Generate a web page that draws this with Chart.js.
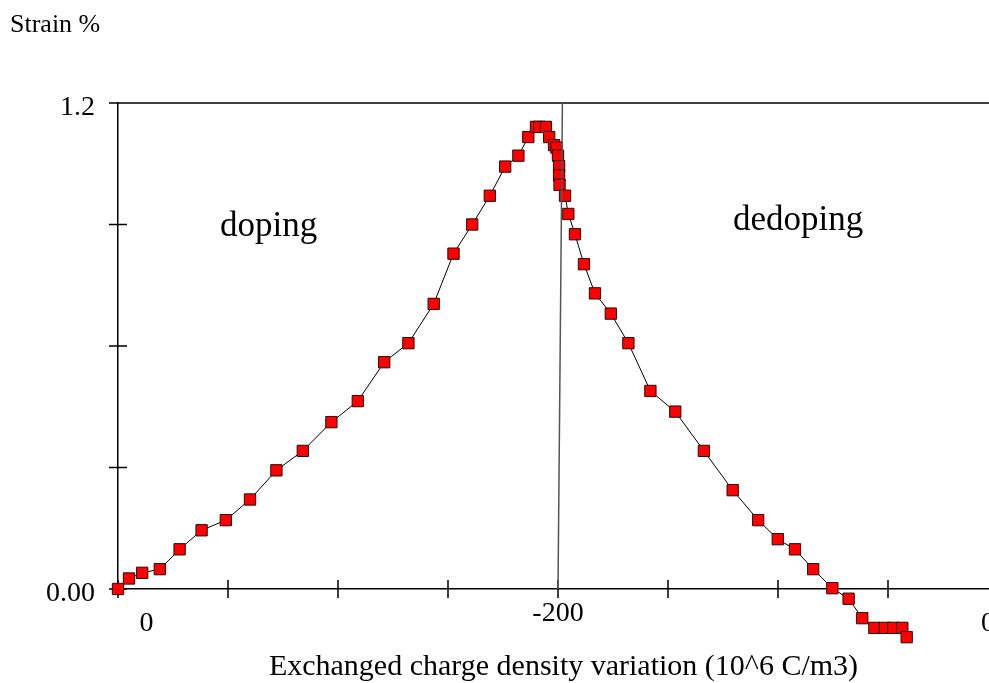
<!DOCTYPE html>
<html>
<head>
<meta charset="utf-8">
<script src="https://cdn.jsdelivr.net/npm/chart.js@4.4.1/dist/chart.umd.min.js"></script>
<style>
  html, body { margin: 0; padding: 0; background: #fff; overflow: hidden; }
  #wrap { width: 989px; height: 683px; overflow: hidden; }
</style>
</head>
<body>
<div id="wrap"><canvas id="strainChart" width="1030" height="683"></canvas></div>
<script>
// doping: charge goes from 0 down to -200
const dopingCharge = [0, -5, -11, -19, -28, -38, -49, -60, -72, -84, -97, -109, -121, -132, -143.5,
  -152.5, -161, -169, -176, -182, -186.5, -190, -191.5, -194.5, -196, -198.2, -199.3, -200];
const dopingStrain = [0, 0.026, 0.04, 0.049, 0.098, 0.145, 0.17, 0.221, 0.293, 0.341, 0.412, 0.464, 0.56, 0.607, 0.704,
  0.828, 0.9, 0.971, 1.043, 1.07, 1.116, 1.141, 1.141, 1.141, 1.116, 1.096, 1.09, 1.07];

// dedoping: charge goes back from -200 towards 0
const dedopingCharge = [-199.5, -199.5, -199.3, -196.8, -195.3, -192.3, -188.2, -183.2, -176, -168, -158, -146.7,
  -133.7, -120.6, -109, -100.1, -92.3, -84, -75.3, -67.9, -61.7, -56.2, -51.4, -47.6, -43.5, -41.5];
const dedopingStrain = [1.044, 1.021, 0.998, 0.971, 0.926, 0.876, 0.802, 0.73, 0.68, 0.607, 0.489, 0.438,
  0.341, 0.244, 0.17, 0.123, 0.098, 0.049, 0.002, -0.024, -0.072, -0.096, -0.096, -0.096, -0.096, -0.119];

// thin reference line at the turning point
const refLineCharge = [-202, -200];
const refLineStrain = [1.2, 0];

const yTickValues = [0, 0.3, 0.6, 0.9, 1.2];
const yTickText = ['0.00', '', '', '', '1.2'];
const xTickStep = 50;
const xTickText = ['0', '-200', '0'];
const xTickPath = [13, 200, 395.5];

// the x axis runs along the cycle: doping then dedoping
const dopingPath = q => -q;
const dedopingPath = q => 400 + q;

const cycle = dopingCharge.map((q, i) => ({ x: dopingPath(q), y: dopingStrain[i] }))
  .concat(dedopingCharge.map((q, i) => ({ x: dedopingPath(q), y: dedopingStrain[i] })));
const refLine = refLineCharge.map((q, i) => ({ x: dopingPath(q), y: refLineStrain[i] }));

const serif = 'Liberation Serif, Times New Roman, serif';

const framePlugin = {
  id: 'frame',
  beforeDatasetsDraw(chart) {
    const { ctx, chartArea, scales } = chart;
    ctx.save();
    ctx.strokeStyle = '#000';
    ctx.lineWidth = 1.5;
    ctx.beginPath();
    // top line
    ctx.moveTo(chartArea.left - 9, chartArea.top);
    ctx.lineTo(chart.width, chartArea.top);
    // y ticks
    yTickValues.forEach(v => {
      const py = scales.y.getPixelForValue(v);
      ctx.moveTo(chartArea.left - 9, py);
      ctx.lineTo(chartArea.left + 9, py);
    });
    // x ticks
    for (let v = 0; v <= scales.x.max; v += xTickStep) {
      const px = scales.x.getPixelForValue(v);
      ctx.moveTo(px, chartArea.bottom - 9);
      ctx.lineTo(px, chartArea.bottom + 9);
    }
    ctx.stroke();
    ctx.restore();
  },
  afterDatasetsDraw(chart) {
    // markers below the zero line are skipped by the chart area test, draw them again
    const full = { left: 0, top: 0, right: chart.width, bottom: chart.height };
    chart.getDatasetMeta(0).data.forEach(p => {
      if (p.y > chart.chartArea.bottom) p.draw(chart.ctx, full);
    });
  },
  afterDraw(chart) {
    const { ctx, chartArea } = chart;
    ctx.save();
    ctx.fillStyle = '#000';
    ctx.textBaseline = 'alphabetic';
    ctx.textAlign = 'left';
    ctx.font = '26px ' + serif;
    ctx.fillText('Strain %', 10, 32);
    ctx.font = '35px ' + serif;
    ctx.fillText('doping', 220, 236);
    ctx.fillText('dedoping', 733, 230);
    ctx.textAlign = 'center';
    ctx.font = '30px ' + serif;
    ctx.fillText('Exchanged charge density variation (10^6 C/m3)', (chartArea.left + chartArea.right) / 2, 675);
    ctx.restore();
  }
};

new Chart(document.getElementById('strainChart'), {
  type: 'line',
  data: {
    datasets: [{
      data: cycle,
      borderColor: '#000',
      borderWidth: 1,
      pointStyle: 'rect',
      pointRadius: 8,
      pointBackgroundColor: '#ff0000',
      pointBorderColor: '#2a0a0a',
      pointBorderWidth: 1,
      tension: 0,
      clip: false
    }, {
      data: refLine,
      borderColor: '#555',
      borderWidth: 1.5,
      pointRadius: 0,
      order: -1,
      clip: false
    }]
  },
  options: {
    responsive: false,
    animation: false,
    events: [],
    layout: { padding: { top: 103, left: 0, right: 21, bottom: 34 } },
    plugins: { legend: { display: false }, tooltip: { enabled: false } },
    scales: {
      x: {
        type: 'linear', position: 'bottom', min: 0, max: 405,
        grid: { display: false, drawTicks: false },
        border: { display: true, color: '#000', width: 1.5 },
        afterBuildTicks: s => { s.ticks = xTickPath.map(v => ({ value: v })); },
        ticks: {
          callback: (v, i) => xTickText[i],
          padding: 8,
          // the two "0" labels sit a little lower than "-200"
          font: c => ({ family: serif, size: 28, lineHeight: c.index === 1 ? 1.2 : 1.9 }),
          color: '#000', autoSkip: false, maxRotation: 0
        },
        afterFit: s => { s.height = 60; }
      },
      y: {
        min: 0, max: 1.2,
        grid: { display: false, drawTicks: false },
        border: { display: true, color: '#000', width: 1.5 },
        afterBuildTicks: s => { s.ticks = yTickValues.map(v => ({ value: v })); },
        ticks: {
          // an empty first line nudges the label a few pixels below its tick
          callback: (v, i) => yTickText[i] ? ['', yTickText[i]] : '',
          padding: 23,
          font: { family: serif, size: 28, lineHeight: '10px' },
          color: '#000'
        },
        afterFit: s => { s.width = 118; }
      }
    }
  },
  plugins: [framePlugin]
});
</script>
</body>
</html>
